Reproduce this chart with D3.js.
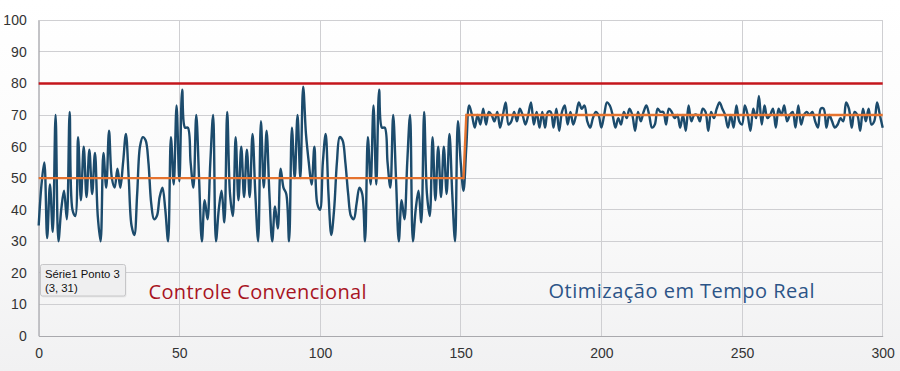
<!DOCTYPE html>
<html>
<head>
<meta charset="utf-8">
<script src="https://cdn.jsdelivr.net/npm/d3@7"></script>
<style>
  html, body { margin: 0; padding: 0; background: #ffffff; }
  svg { display: block; font-family: "Liberation Sans", Arial, sans-serif; }
</style>
</head>
<body>
<svg id="chart" width="900" height="371"></svg>
<script>
// ---- data ----
const xTicks = [0, 50, 100, 150, 200, 250, 300];
const yTicks = [0, 10, 20, 30, 40, 50, 60, 70, 80, 90, 100];

// Série1: measured process value, one point per x = 0..300
const serie1 = [
  35, 48, 55, 31, 48, 33, 70, 30, 40, 46, 37, 71, 40, 38, 63, 43, 60, 44, 59, 45,
  58, 38, 30, 58, 47, 65, 50, 47, 53, 47, 55, 64, 50, 35, 32, 45, 60, 63, 62, 55,
  42, 37, 38, 44, 47, 40, 30, 63, 48, 73, 49, 78, 66, 66, 55, 47, 70, 50, 30, 43,
  37, 55, 70, 30, 40, 46, 36, 71, 45, 38, 63, 43, 60, 44, 59, 44, 64, 45, 30, 68,
  47, 65, 45, 30, 41, 34, 53, 47, 45, 30, 66, 50, 70, 50, 79, 64, 55, 48, 60, 42,
  40, 55, 64, 45, 32, 40, 55, 63, 62, 55, 45, 38, 37, 42, 47, 45, 30, 63, 48, 73,
  48, 78, 66, 66, 55, 47, 70, 50, 30, 43, 37, 55, 70, 30, 40, 46, 36, 71, 45, 38,
  63, 43, 60, 44, 60, 45, 64, 45, 30, 68, 55, 46, 60, 73, 70, 66, 70, 67, 72, 67,
  71, 70, 68, 71, 66, 70, 74, 67, 68, 71, 68, 72, 70, 67, 70, 74, 67, 71, 66, 71,
  66, 71, 71, 66, 72, 65, 71, 73, 67, 71, 67, 70, 74, 72, 73, 68, 66, 69, 71, 70,
  66, 70, 74, 73, 70, 66, 69, 67, 71, 69, 72, 70, 65, 71, 68, 71, 73, 70, 66, 67,
  72, 71, 71, 67, 72, 71, 69, 70, 66, 70, 65, 73, 68, 70, 70, 68, 72, 71, 65, 71,
  69, 72, 74, 72, 70, 66, 70, 66, 73, 68, 67, 73, 70, 65, 72, 69, 76, 67, 73, 69,
  70, 72, 66, 72, 70, 73, 68, 70, 71, 66, 73, 67, 70, 71, 70, 71, 68, 66, 72, 72,
  66, 70, 68, 66, 67, 69, 68, 74, 72, 66, 71, 70, 65, 72, 68, 72, 67, 68, 74, 70,
  66
];
// setpoint: 50 under conventional control, 70 after real-time optimisation
const setpointX = [0, 151, 152, 300];
const setpointY = [50, 50, 70, 70];
// upper limit
const limitX = [0, 300];
const limitY = [80, 80];

const labels = ["Controle Convencional", "Otimização em Tempo Real"];
const tooltipLines = ["Série1 Ponto 3", "(3, 31)"];

// ---- layout ----
const svg = d3.select("#chart");
const W = 900, H = 371;
const m = { left: 38.7, right: 900 - 882.7, top: 20.3, bottom: 371 - 336 };

const x = d3.scaleLinear().domain([0, 300]).range([m.left, W - m.right]);
const y = d3.scaleLinear().domain([0, 100]).range([H - m.bottom, m.top]);

// background
const defs = svg.append("defs");
const grad = defs.append("linearGradient").attr("id", "bg").attr("x1", 0).attr("y1", 0).attr("x2", 0).attr("y2", 1);
grad.append("stop").attr("offset", "0%").attr("stop-color", "#ffffff");
grad.append("stop").attr("offset", "55%").attr("stop-color", "#fafafa");
grad.append("stop").attr("offset", "100%").attr("stop-color", "#f1f1f2");
svg.append("rect").attr("width", W).attr("height", H).attr("fill", "url(#bg)");

// grid
const grid = svg.append("g");
grid.selectAll("line.h").data(yTicks).join("line")
  .attr("x1", x(0)).attr("x2", x(300))
  .attr("y1", d => y(d)).attr("y2", d => y(d))
  .attr("stroke", "#cfcfd2").attr("stroke-width", 1).attr("shape-rendering", "crispEdges");
grid.selectAll("line.v").data(xTicks).join("line")
  .attr("x1", d => x(d)).attr("x2", d => x(d))
  .attr("y1", y(0)).attr("y2", y(100))
  .attr("stroke", "#cfcfd2").attr("stroke-width", 1).attr("shape-rendering", "crispEdges");

// axes
const xAxis = svg.append("g").attr("transform", `translate(0,${y(0)})`)
  .call(d3.axisBottom(x).tickValues(xTicks).tickSize(0).tickPadding(12).tickFormat(d3.format("d")));
const yAxis = svg.append("g").attr("transform", `translate(${x(0)},0)`)
  .call(d3.axisLeft(y).tickValues(yTicks).tickSize(0).tickPadding(12).tickFormat(d3.format("d")));
[xAxis, yAxis].forEach(a => {
  a.select(".domain").attr("stroke", "#a9a9ad").attr("stroke-width", 1);
  a.selectAll("text").attr("font-size", 14).attr("fill", "#333").attr("font-family", "Liberation Sans, Arial, sans-serif");
});

// lines
const lineStraight = d3.line().x(d => x(d[0])).y(d => y(d[1]));
svg.append("path")
  .datum(limitX.map((v, i) => [v, limitY[i]]))
  .attr("d", lineStraight).attr("fill", "none")
  .attr("stroke", "#c4161c").attr("stroke-width", 2.5);

const smooth = d3.line().x(d => x(d[0])).y(d => y(d[1])).curve(d3.curveCatmullRom.alpha(0.5));
svg.append("path")
  .datum(serie1.map((v, i) => [i, v]))
  .attr("d", smooth).attr("fill", "none")
  .attr("stroke", "#1c4b6c").attr("stroke-width", 2.4).attr("stroke-linejoin", "round");

svg.append("path")
  .datum(setpointX.map((v, i) => [v, setpointY[i]]))
  .attr("d", lineStraight).attr("fill", "none")
  .attr("stroke", "#e5732f").attr("stroke-width", 2.4);

// region labels
svg.append("text").attr("x", 148.5).attr("y", 298.5)
  .attr("font-family", "'Open Sans', sans-serif").attr("font-size", 20)
  .attr("textLength", 218).attr("lengthAdjust", "spacing")
  .attr("fill", "#a8141f").text(labels[0]);
svg.append("text").attr("x", 548.5).attr("y", 297.5)
  .attr("font-family", "'Open Sans', sans-serif").attr("font-size", 20)
  .attr("textLength", 266).attr("lengthAdjust", "spacing")
  .attr("fill", "#2c5487").text(labels[1]);

// tooltip
const tip = svg.append("g").attr("transform", "translate(40.5,264.5)");
tip.append("rect").attr("x", 1).attr("y", 1.5).attr("width", 85).attr("height", 31.5)
  .attr("fill", "#000").attr("opacity", 0.06).attr("rx", 2);
tip.append("rect").attr("width", 85).attr("height", 31.5).attr("rx", 2)
  .attr("fill", "#efeff0").attr("stroke", "#c6c6c8").attr("stroke-width", 1);
tip.selectAll("text").data(tooltipLines).join("text")
  .attr("x", 4.5).attr("y", (d, i) => 13 + i * 14.5)
  .attr("font-size", 11.3).attr("fill", "#111")
  .attr("font-family", "'Liberation Sans', Arial, sans-serif")
  .text(d => d);
</script>
</body>
</html>
